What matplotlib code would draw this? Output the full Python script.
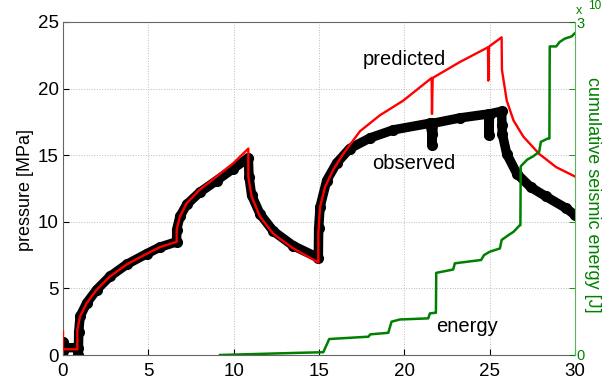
import matplotlib
matplotlib.use("Agg")
import matplotlib.pyplot as plt

plt.rcParams['font.family'] = ['Liberation Sans', 'DejaVu Sans']

# predicted pressure (MPa)
pred_t = [0, 0, 0.84, 0.84, 1.0, 1.39, 1.97, 2.75, 3.73, 4.9, 5.68, 6.66, 6.66,
          6.85, 7.25, 8.0, 9.0, 9.98, 10.86, 10.86, 11.05, 11.54, 12.32, 13.49, 14.96,
          14.96, 15.06, 15.35, 15.83, 16.42, 17.4, 18.57, 19.94, 21.6, 21.62, 21.66,
          23.26, 24.9, 24.92, 24.96, 25.7, 25.72, 26.0, 26.4, 26.97, 27.9, 28.9, 30.0]
pred_p = [1.75, 0.43, 0.43, 1.9, 2.9, 3.9, 4.9, 5.9, 6.8, 7.6, 8.1, 8.5, 9.4,
          10.4, 11.4, 12.4, 13.4, 14.4, 15.5, 13.4, 11.9, 10.4, 9.1, 8.0, 6.95,
          9.1, 11.1, 12.6, 13.9, 15.1, 16.8, 18.0, 19.1, 20.8, 18.1, 20.8,
          22.0, 23.1, 20.6, 23.15, 23.85, 21.4, 19.1, 17.6, 16.4, 15.1, 14.1, 13.4]

# observed pressure (MPa)
obs_t = [0, 0.02, 0.05, 0.86, 0.9, 0.92, 1.0, 1.39, 1.97, 2.75, 3.73, 4.9, 5.68,
         6.66, 6.66, 6.85, 7.25, 8.0, 9.0, 9.98, 10.86, 10.9, 11.05, 11.54, 12.32,
         13.49, 14.96, 14.98, 15.06, 15.45, 16.03, 16.8, 18.0, 19.35, 21.5, 21.62,
         21.62, 21.7, 23.26, 24.95, 24.95, 25.0, 25.7, 25.72, 25.74, 26.0, 26.6,
         27.4, 28.3, 29.5, 30.0]
obs_p = [1.0, 0.3, 0.55, 0.55, 0.0, 1.7, 2.9, 3.9, 4.9, 5.9, 6.8, 7.6, 8.1,
         8.5, 9.4, 10.4, 11.3, 12.2, 13.1, 14.0, 14.8, 13.4, 12.0, 10.6, 9.3,
         8.2, 7.3, 9.5, 11.1, 13.1, 14.4, 15.5, 16.3, 16.9, 17.4, 16.6,
         15.8, 17.4, 17.8, 18.1, 16.5, 18.1, 18.3, 17.3, 16.6, 15.1, 13.6,
         12.6, 11.9, 11.0, 10.5]

# cumulative seismic energy (x10^?)
en_t = [9.2, 13.9, 15.25, 15.6, 17.9, 18.0, 19.06, 19.25, 19.74, 21.4, 21.5, 21.8,
        21.85, 21.87, 22.86, 22.96, 24.5, 24.67, 25.0, 25.6, 25.7, 26.1, 26.4,
        26.77, 26.8, 26.82, 27.2, 27.55, 27.9, 28.0, 28.4, 28.5, 28.52, 28.9,
        29.1, 29.4, 29.8, 30.0]
en_v = [0.0, 0.02, 0.025, 0.144, 0.165, 0.186, 0.2, 0.3, 0.32, 0.33, 0.375, 0.38,
        0.38, 0.74, 0.77, 0.826, 0.856, 0.90, 0.93, 0.96, 1.036, 1.08, 1.11,
        1.17, 1.17, 1.70, 1.76, 1.79, 1.83, 1.92, 1.95, 1.95, 2.78, 2.78,
        2.82, 2.85, 2.87, 2.9]

x_ticks = [0, 5, 10, 15, 20, 25, 30]
y_ticks = [0, 5, 10, 15, 20, 25]

green = '#008000'
gray = '#666666'

fig = plt.figure(figsize=(6.11, 3.83), dpi=100)
ax = fig.add_axes([63/611, 28/383, 512/611, 333/383])

ax.plot(obs_t, obs_p, color='black', lw=6.8, solid_capstyle='round',
        solid_joinstyle='round', marker='o', ms=7, zorder=2)
ax.plot(pred_t, pred_p, color='red', lw=1.7, zorder=3)

ax.set_xlim(0, 30)
ax.set_ylim(0, 25)
ax.set_xticks(x_ticks)
ax.set_yticks(y_ticks)
ax.grid(True, linestyle=':', color='#bbbbbb', lw=0.7)
ax.tick_params(direction='in', length=4, labelsize=13.5, colors='black')
ax.tick_params(axis='x', pad=6)
ax.tick_params(axis='y', pad=3)
for s in ['left', 'top', 'bottom']:
    ax.spines[s].set_color(gray)
    ax.spines[s].set_linewidth(0.8)
ax.spines['right'].set_visible(False)
fig.text(25/611, 1 - 190/383, 'pressure [MPa]', fontsize=13, rotation=90,
         ha='center', va='center')

ax.text(20.0, 21.77, 'predicted', fontsize=14.5, ha='center', va='baseline')
ax.text(20.56, 13.94, 'observed', fontsize=14.5, ha='center', va='baseline')
ax.text(23.67, 1.75, 'energy', fontsize=14.5, ha='center', va='baseline')

ax2 = ax.twinx()
ax2.plot(en_t, en_v, color=green, lw=1.8)
ax2.set_ylim(0, 3)
ax2.set_yticks([0, 3])
ax2.set_yticks([0.6, 1.2, 1.8, 2.4], minor=True)
ax2.tick_params(axis='y', which='both', direction='in', length=4, colors=green,
                labelsize=10.5, pad=1)
ax2.spines['right'].set_color('#5fb05f')
ax2.spines['right'].set_linewidth(0.8)
for s in ['left', 'top', 'bottom']:
    ax2.spines[s].set_visible(False)
fig.text(592/611, 1 - 195/383, 'cumulative seismic energy [J]', fontsize=13,
         color=green, rotation=270, ha='center', va='center')
fig.text(576/611, 1 - 11/383, 'x', fontsize=9, color=green, ha='left', va='center')
fig.text(588/611, 1 - 6/383, '10', fontsize=8.5, color=green, ha='left', va='center')

fig.savefig('out.png', dpi=100)
